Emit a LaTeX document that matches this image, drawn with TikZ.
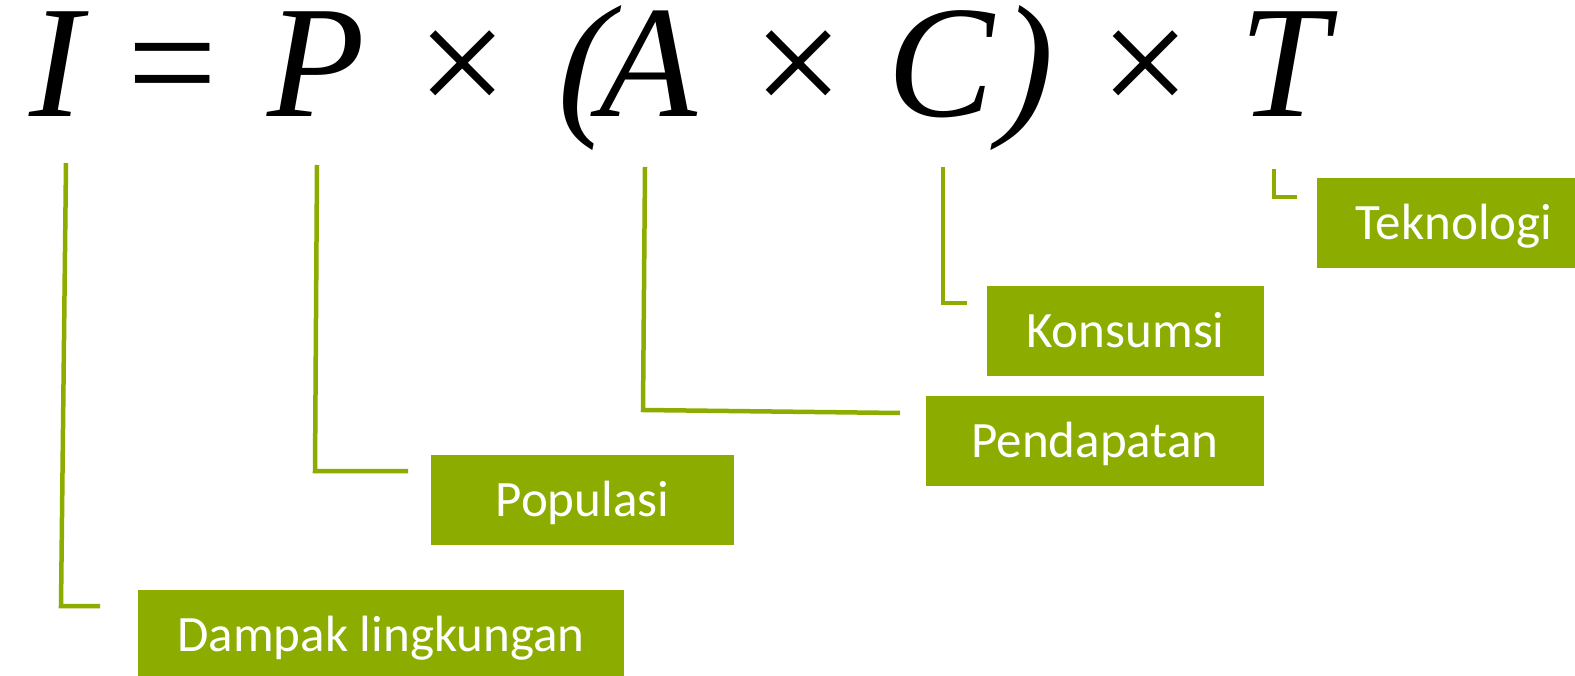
\documentclass[tikz,border=0pt]{standalone}
\usepackage{fontspec}
\setmainfont{Carlito}
\newfontfamily\eqfont{Liberation Serif}
\newfontfamily\parfont[FakeSlant=0.2]{Liberation Serif}
\definecolor{olive}{RGB}{140,172,0}
\tikzset{
  glyph/.style={anchor=base, inner sep=0pt, font=\eqfont\fontsize{160}{160}\selectfont},
  iglyph/.style={glyph, font=\eqfont\itshape\fontsize{160}{160}\selectfont},
  pglyph/.style={glyph, font=\parfont\fontsize{160}{160}\selectfont},
  label/.style={fill=olive, text=white, inner sep=0pt, font=\fontsize{51}{51}\selectfont,
    text height=33pt, text depth=0pt, minimum height=90pt},
  lead/.style={draw=olive, line width=4.5pt}
}
\begin{document}
\begin{tikzpicture}[x=1pt,y=-1pt]
\useasboundingbox (0,0) rectangle (1575,676);
% the formula, one glyph per node
\node[iglyph] (gI)  at (56,117)   {I};
\node[glyph]  (gEq) at (173,117)  {=};
\node[iglyph] (gP)  at (316,117)  {P};
\node[glyph]  (gX1) at (463,117)  {×};
\node[pglyph] (gLp) at (578,117)  {(};
\node[iglyph] (gA)  at (648,117)  {A};
\node[glyph]  (gX2) at (799,117)  {×};
\node[iglyph] (gC)  at (941,117)  {C};
\node[pglyph] (gRp) at (1019,117) {)};
\node[glyph]  (gX3) at (1146,117) {×};
\node[iglyph] (gT)  at (1284,117) {T};
% label boxes
\node[label, minimum width=274pt] (tek) at (1454,223.5) {Teknologi};
\node[label, minimum width=277pt] (kon) at (1125.5,331) {Konsumsi};
\node[label, minimum width=338pt] (pen) at (1095,441)   {Pendapatan};
\node[label, minimum width=303pt] (pop) at (582.5,500)  {Populasi};
\node[label, minimum width=486pt] (dam) at (381,635)    {Dampak lingkungan};
% leader lines from the symbols towards their labels
\coordinate (iA) at (66,163);   \coordinate (iB) at (61,606);   \coordinate (iC) at (100,606);
\coordinate (pA) at (317,165);  \coordinate (pB) at (315,471);  \coordinate (pC) at (408,471);
\coordinate (aA) at (645,167);  \coordinate (aB) at (643,410);  \coordinate (aC) at (900,413);
\coordinate (cA) at (943,167);  \coordinate (cB) at (943,303);  \coordinate (cC) at (967,303);
\coordinate (tA) at (1274,169); \coordinate (tB) at (1274,197); \coordinate (tC) at (1297,197);
\draw[lead] (iA) -- (iB) -- (iC);
\draw[lead] (pA) -- (pB) -- (pC);
\draw[lead] (aA) -- (aB) -- (aC);
\draw[lead] (cA) -- (cB) -- (cC);
\draw[lead] (tA) -- (tB) -- (tC);
\end{tikzpicture}
\end{document}
